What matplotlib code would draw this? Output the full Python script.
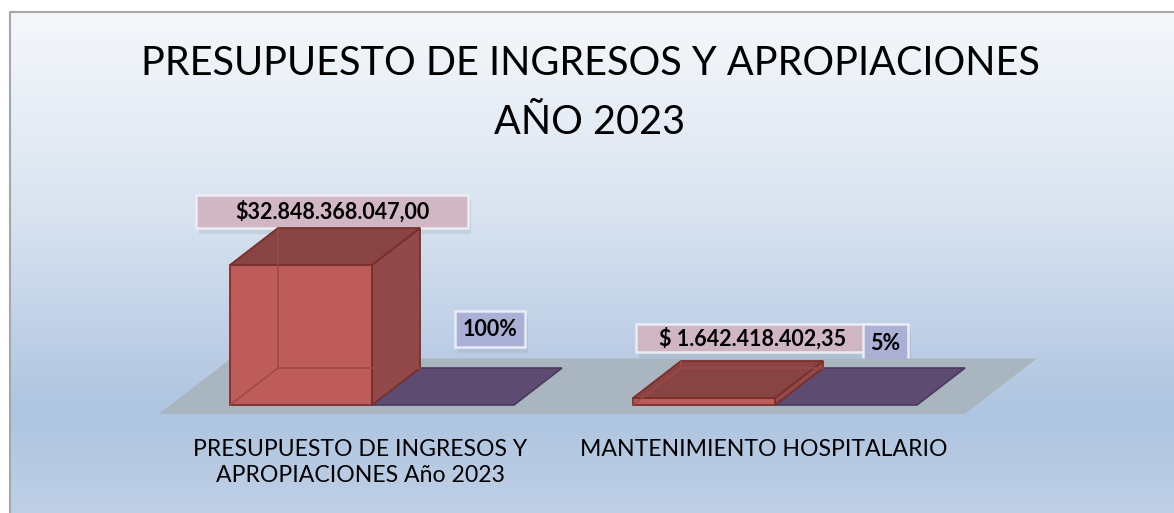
import matplotlib.pyplot as plt
import numpy as np
from matplotlib.patches import Polygon, Rectangle
from matplotlib.colors import LinearSegmentedColormap

# datos del grafico
categorias = ['PRESUPUESTO DE INGRESOS Y\nAPROPIACIONES Año 2023', 'MANTENIMIENTO HOSPITALARIO']
montos = [32848368047.00, 1642418402.35]
porcentajes = [1.00, 0.05]
etiquetas_monto = ['$32.848.368.047,00', '$ 1.642.418.402,35']
etiquetas_pct = ['100%', '5%']
titulo = 'PRESUPUESTO DE INGRESOS Y APROPIACIONES\nAÑO 2023'

plt.rcParams['font.family'] = ['Lato', 'DejaVu Sans']

W, H = 1174, 513
fig = plt.figure(figsize=(W / 100, H / 100), dpi=100)

# fondo con degradado (coordenadas en pixeles, y hacia abajo)
bg = fig.add_axes([0, 0, 1, 1])
bg.set_xlim(0, W)
bg.set_ylim(H, 0)
bg.axis('off')
cmap = LinearSegmentedColormap.from_list(
    'fondo', [(0, '#f5f8fb'), (0.4, '#d9e3f0'), (0.8, '#aec4e0'), (1, '#bfd0e6')])
grad = np.linspace(0, 1, 256).reshape(-1, 1)
bg.imshow(grad, cmap=cmap, extent=[10, W, H, 12], aspect='auto', zorder=0)
bg.plot([10, 10, W], [H, 12, 12], color='#a6a6a6', lw=1.5, zorder=1)

bg.text(590, 93, titulo, ha='center', va='center', fontsize=28.5,
        linespacing=1.74, color='black')

# ejes principales
L, R, T, B = 100, 1100, 150, 430
ax = fig.add_axes([L / W, (H - B) / H, (R - L) / W, (B - T) / H])
ax.axis('off')
ax.set_facecolor('none')

x = np.arange(len(categorias))
w = 142 / 403
vmax = max(montos)
ppx = 403
ppy = 140 / vmax
ax.set_xlim((L - 372) / ppx, (R - 372) / ppx)
ax.set_ylim(-(B - 405) / ppy, (405 - T) / ppy)
DX = 48 / ppx
DY = 37 / ppy

# piso
t0, t1 = -0.243, 1.257
fx0, fx1 = -0.5, len(categorias) - 0.5
ax.add_patch(Polygon([(fx0 + t0 * DX, t0 * DY), (fx1 + t0 * DX, t0 * DY),
                      (fx1 + t1 * DX, t1 * DY), (fx0 + t1 * DX, t1 * DY)],
                     closed=True, fc='#a9b6c0', ec='none', zorder=1))

# serie porcentaje (plana)
for xi, p in zip(x, porcentajes):
    ax.add_patch(Polygon([(xi, p), (xi + w, p), (xi + w + DX, p + DY), (xi + DX, p + DY)],
                         closed=True, fc='#5d4b71', ec='#4a3a5d', lw=1.2, zorder=2))

# serie montos (cubos)
borde = '#7a2f2d'
ax.bar(x - w / 2, montos, width=w, color='#be5c5a', edgecolor=borde, lw=1.3, zorder=3)
for xi, v in zip(x, montos):
    ax.add_patch(Polygon([(xi, 0), (xi + DX, DY), (xi + DX, v + DY), (xi, v)],
                         closed=True, fc='#914a49', ec=borde, lw=1.3, zorder=3))
    ax.add_patch(Polygon([(xi - w, v), (xi, v), (xi + DX, v + DY), (xi - w + DX, v + DY)],
                         closed=True, fc='#874442', ec=borde, lw=1.3, zorder=3))
    # aristas ocultas vistas por transparencia
    ax.plot([xi - w, xi - w + DX, xi - w + DX], [0, DY, v + DY], color='#9e4846',
            lw=1.1, zorder=4)
    ax.plot([xi - w + DX, xi + DX], [DY, DY], color='#9e4846', lw=1.1, zorder=4)


def a_pix(px, py):
    return bg.transData.inverted().transform(ax.transData.transform((px, py)))


def etiqueta(cx, cy, texto, ancho, alto, fc, fs):
    bg.add_patch(Rectangle((cx - ancho / 2 + 3, cy - alto / 2 + 6), ancho, alto,
                           fc='#7f8ca0', ec='none', alpha=0.18, zorder=5))
    bg.add_patch(Rectangle((cx - ancho / 2, cy - alto / 2), ancho, alto,
                           fc=fc, ec='#eef0f6', lw=1.8, alpha=0.92, zorder=6))
    bg.text(cx, cy + 1, texto, ha='center', va='center', fontsize=fs,
            fontweight='bold', color='black', zorder=7)


off_monto = [(-17, -17), (1, -23)]
caja_monto = [(272, 33), (235, 28)]
for xi, v, txt, (ox, oy), (bw, bh) in zip(x, montos, etiquetas_monto, off_monto, caja_monto):
    cx, cy = a_pix(xi - w / 2 + DX, v + DY)
    etiqueta(cx + ox, cy + oy, txt, bw, bh, '#d2b5c1', 15.5)

off_pct = [(-1, -39), (-9, -25)]
caja_pct = [(70, 36), (45, 38)]
for xi, p, txt, (ox, oy), (bw, bh) in zip(x, porcentajes, etiquetas_pct, off_pct, caja_pct):
    cx, cy = a_pix(xi + w / 2 + DX, p + DY)
    etiqueta(cx + ox, cy + oy, txt, bw, bh, '#a9aed5', 15.5)

# etiquetas de categoria
for xi, cat in zip(x, categorias):
    cx, cy = a_pix(xi + t0 * DX, t0 * DY)
    bg.text(cx, 439, cat, ha='center', va='top', fontsize=16.6, linespacing=1.3,
            color='black', zorder=7)

fig.savefig('out.png', dpi=100)
